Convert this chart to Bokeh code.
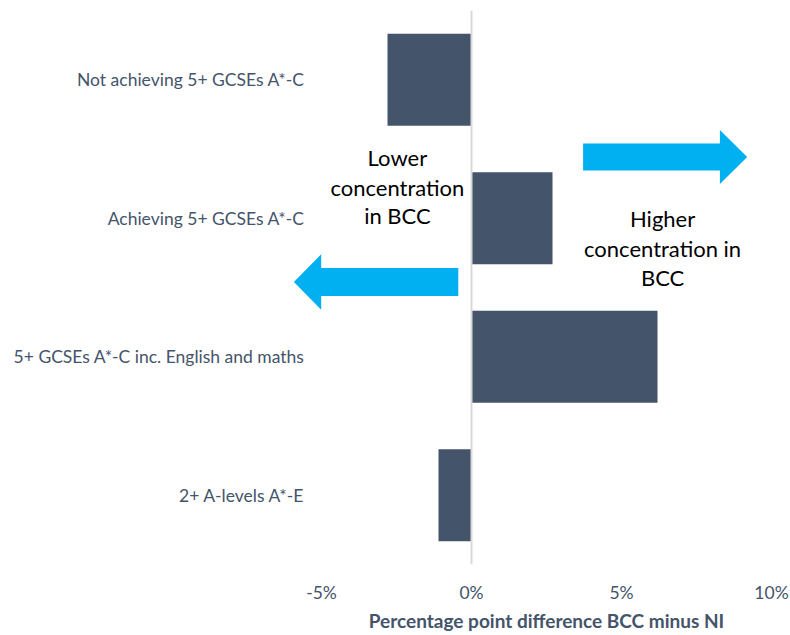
from bokeh.plotting import figure
from bokeh.models import (Range1d, FixedTicker, PrintfTickFormatter,
                          Span, ColumnDataSource)
from bokeh.core.properties import value
from bokeh.embed import file_html
from bokeh.resources import INLINE

# ---- data ----
categories = [
    "Not achieving 5+ GCSEs A*-C",
    "Achieving 5+ GCSEs A*-C",
    "5+ GCSEs A*-C inc. English and maths",
    "2+ A-levels A*-E",
]
diff_pct = [-2.8, 2.7, 6.2, -1.1]   # percentage point difference BCC minus NI
x_ticks = [-5, 0, 5, 10]

lower_lines = ["Lower", "concentration", "in BCC"]
higher_lines = ["Higher", "concentration in", "BCC"]

# ---- styles ----
BAR = "#44546A"
ARROW = "#00B0F0"
TXT = "#44546A"
FONT = "Lato"

n = len(categories)
ypos = [n - i - 0.5 for i in range(n)]   # band centres, first category on top

p = figure(
    width=790, height=635,
    y_range=Range1d(0, n), x_range=Range1d(-5, 10),
    output_backend="svg", toolbar_location=None,
    min_border_left=321, min_border_right=19, min_border_top=10, min_border_bottom=71,
)

src = ColumnDataSource(dict(y=ypos, val=diff_pct))
p.hbar(y="y", left=0, right="val", height=0.665, source=src,
       fill_color=BAR, line_color=None)

p.add_layout(Span(location=0, dimension="height", line_color="#D9D9D9", line_width=2))

# ---- arrows (annotation shapes) ----
def arrow(x_tail, x_base, x_tip, yc, shaft_h, head_h):
    xs = [x_tail, x_base, x_base, x_tip, x_base, x_base, x_tail]
    ys = [yc + shaft_h, yc + shaft_h, yc + head_h, yc, yc - head_h, yc - shaft_h, yc - shaft_h]
    return xs, ys

rx, ry = arrow(3.72, 8.28, 9.19, 2.942, 0.0975, 0.195)
lx, ly = arrow(-0.44, -5.01, -5.92, 2.040, 0.101, 0.200)
p.patches(xs=[rx, lx], ys=[ry, ly], fill_color=ARROW, line_color=None, level="overlay")

# ---- annotation texts ----
p.text(x=[-2.47] * 3, y=[2.939, 2.722, 2.520], text=lower_lines,
       text_align="center", text_baseline="middle", text_color="#000000",
       text_font=value(FONT), text_font_size="22px")
p.text(x=[6.37] * 3, y=[2.498, 2.282, 2.072], text=higher_lines,
       text_align="center", text_baseline="middle", text_color="#000000",
       text_font=value(FONT), text_font_size="22px")

# ---- axes ----
xa = p.xaxis[0]
xa.ticker = FixedTicker(ticks=x_ticks)
xa.formatter = PrintfTickFormatter(format="%d%%")
xa.axis_line_color = None
xa.major_tick_line_color = None
xa.minor_tick_line_color = None
xa.major_label_text_font = FONT
xa.major_label_text_font_size = "17.5px"
xa.major_label_text_color = TXT
xa.major_label_standoff = 11
xa.axis_label = "Percentage point difference BCC minus NI"
xa.axis_label_text_font = FONT
xa.axis_label_text_font_size = "19px"
xa.axis_label_text_font_style = "bold"
xa.axis_label_text_color = TXT
xa.axis_label_standoff = 3

ya = p.yaxis[0]
ya.ticker = FixedTicker(ticks=ypos)
ya.major_label_overrides = {y: c for y, c in zip(ypos, categories)}
ya.axis_line_color = None
ya.major_tick_line_color = None
ya.minor_tick_line_color = None
ya.major_label_text_font = FONT
ya.major_label_text_font_size = "17.5px"
ya.major_label_text_color = TXT
ya.major_label_standoff = 11

p.xgrid.visible = False
p.ygrid.visible = False
p.outline_line_color = None

open("out.html", "w").write(file_html(p, INLINE))
